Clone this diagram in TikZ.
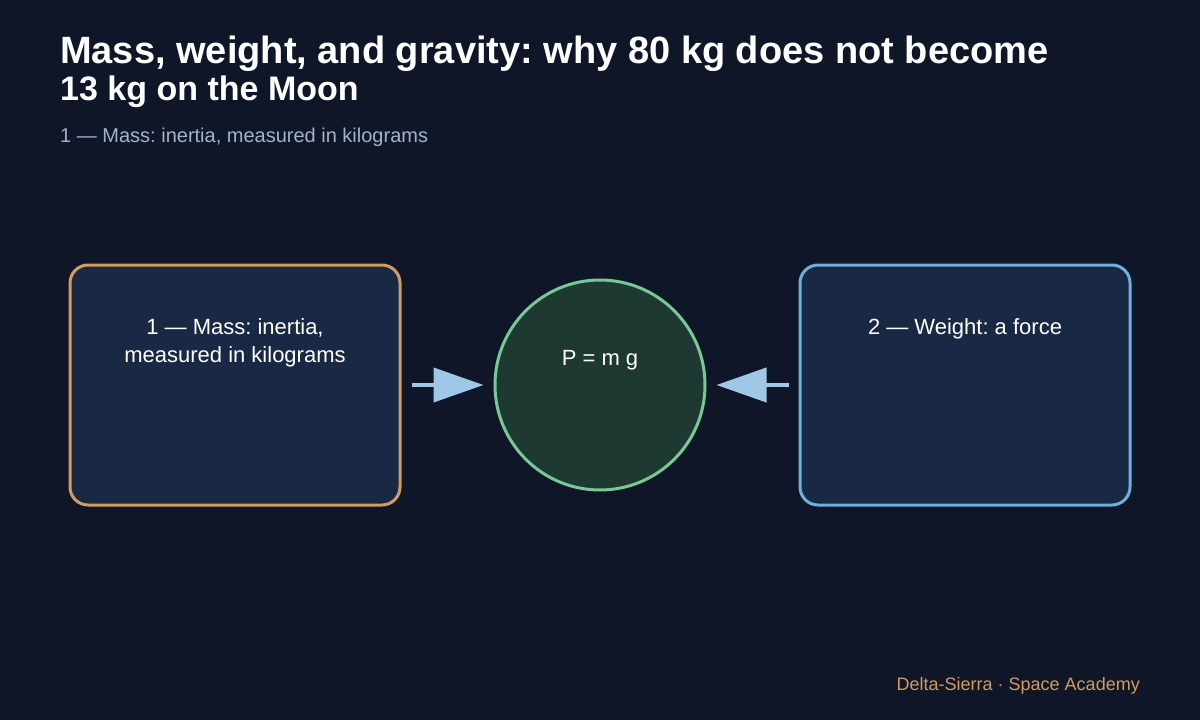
\documentclass[tikz,border=0pt]{standalone}
\usepackage{fontspec}
\setmainfont{Liberation Sans}
\usepackage{xcolor}
\definecolor{bgnavy}{RGB}{14,22,39}
\definecolor{boxfill}{RGB}{25,41,68}
\definecolor{lawfill}{RGB}{30,56,50}
\definecolor{lawline}{RGB}{120,200,150}
\definecolor{massline}{RGB}{210,155,95}
\definecolor{weightline}{RGB}{110,175,220}
\definecolor{arrowblue}{RGB}{160,200,230}
\definecolor{subgray}{RGB}{160,180,200}
\usetikzlibrary{positioning, calc, arrows.meta}
\frenchspacing
\tikzstyle{Box} = [
draw,
line width=3pt,
fill=boxfill,
rounded corners=18pt,
minimum width=330pt,
minimum height=240pt,
inner sep=0pt]
\tikzstyle{BoxText} = [
text=white,
align=center,
inner sep=0pt,
font=\fontsize{22}{28}\selectfont]
\tikzstyle{Arrow} = [
line width=4pt,
arrowblue,
-{Triangle[length=50pt,width=34pt]},
shorten >= 10pt, shorten <= 10pt]

\begin{document}
\begin{tikzpicture}[x=1pt, y=-1pt]
    \fill[bgnavy] (0,0) rectangle (1200,720);
    \useasboundingbox (0,0) rectangle (1200,720);

    \node [anchor=base west, inner sep=0pt, text=white,
           font=\fontsize{38}{38}\selectfont\bfseries] (title1) at (60,63)
          {Mass, weight, and gravity: why 80 kg does not become};
    \node [anchor=base west, inner sep=0pt, text=white,
           font=\fontsize{34}{34}\selectfont\bfseries] (title2) at (60,100)
          {13 kg on the Moon};
    \node [anchor=base west, inner sep=0pt, text=subgray,
           font=\fontsize{20}{20}\selectfont] (sub) at (60,142)
          {1 — Mass: inertia, measured in kilograms};

    \node [Box, draw=massline] (mass) at (235,385) {};
    \node [circle, draw=lawline, line width=3pt, fill=lawfill,
           minimum size=210pt, inner sep=0pt] (law) at (600,385) {};
    \node [Box, draw=weightline] (weight) at (965,385) {};

    \node [BoxText, anchor=base] (masstext1) at ($(mass.north)+(0,71)$) {1 — Mass: inertia,};
    \node [BoxText, anchor=base] (masstext2) at ($(mass.north)+(0,99)$) {measured in kilograms};
    \node [BoxText, anchor=base] (lawtext) at ($(law.center)+(0,-20)$) {P = m g};
    \node [BoxText, anchor=base] (weighttext) at ($(weight.north)+(0,71)$) {2 — Weight: a force};

    \draw[Arrow] (mass.east) -- (law.west);
    \draw[Arrow] (weight.west) -- (law.east);

    \node [anchor=base east, inner sep=0pt, text=massline,
           font=\fontsize{18}{18}\selectfont] (footer) at (1140,690)
          {Delta-Sierra · Space Academy};
\end{tikzpicture}
\end{document}
